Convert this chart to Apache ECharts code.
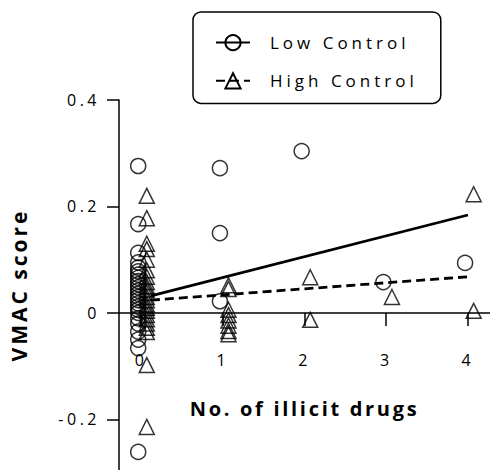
<!DOCTYPE html>
<html><head><meta charset="utf-8">
<script src="https://cdn.jsdelivr.net/npm/echarts@6/dist/echarts.min.js"></script>
<style>html,body{margin:0;padding:0;background:#fff}#c{width:490px;height:470px}</style>
</head><body><div id="c"></div>
<script>
// ---- data ----
const groups = ['Low Control', 'High Control'];
const lowDrugs = [0,0,0,0,0,0,0,0,0,0,0,0,0,0,0,0,0,0,0,0,0,0,0,0,0, 1,1,1, 2, 3, 4];
const lowScores = [0.276,0.167,0.113,0.095,0.085,0.078,0.072,0.066,0.060,0.054,0.048,0.042,0.036,0.030,0.024,0.018,0.012,0.006,0.000,-0.010,-0.020,-0.035,-0.050,-0.066,-0.261,
                   0.272,0.150,0.022, 0.304, 0.058, 0.094];
const highDrugs = [0,0,0,0,0,0,0,0,0,0,0,0,0,0,0,0,0,0,0,0,0,0,0, 1,1,1,1,1,1,1,1, 2,2, 3, 4,4];
const highScores = [0.220,0.178,0.130,0.120,0.100,0.080,0.068,0.058,0.050,0.044,0.038,0.030,0.024,0.016,0.010,0.004,-0.004,-0.012,-0.020,-0.028,-0.036,-0.098,-0.214,
                    0.052,0.045,0.006,-0.004,-0.014,-0.024,-0.034,-0.040, 0.067,-0.013, 0.030, 0.223,0.004];
const lowTrendX = [0.12, 4];
const lowTrendY = [0.032, 0.184];
const highTrendX = [0.12, 4];
const highTrendY = [0.024, 0.068];
const xTicks = [0, 1, 2, 3, 4];
const yTicks = [-0.2, 0, 0.2, 0.4];
const xTitle = 'No. of illicit drugs';
const yTitle = 'VMAC score';

// ---- chart ----
const FONT = '"Open Sans", "Noto Sans", sans-serif';
const lowDodge = -0.035, highDodge = 0.07;
const hollow = {color: 'rgba(0,0,0,0)', borderColor: '#000', borderWidth: 1.5};
const chart = echarts.init(document.getElementById('c'), null, {renderer: 'svg'});
chart.setOption({
  backgroundColor: '#fff',
  animation: false,
  grid: {left: 119, right: 0, top: 100, bottom: 0, containLabel: false, outerBoundsMode: 'none'},
  legend: {
    data: groups, orient: 'vertical', left: 193, top: 12,
    padding: [22, 71, 14, 22], itemWidth: 34, itemHeight: 19, itemGap: 21,
    borderColor: '#000', borderWidth: 1.5, borderRadius: 8, selectedMode: false,
    textStyle: {fontFamily: FONT, fontSize: 17, color: '#000', padding: [0, 0, 0, 15]}
  },
  xAxis: {
    type: 'value', min: -0.27, max: 4.27,
    axisLine: {onZero: true, lineStyle: {color: '#000', width: 1.5}},
    axisTick: {length: 13, lineStyle: {color: '#000', width: 1.5}, customValues: xTicks},
    axisLabel: {customValues: xTicks, margin: -118, fontSize: 16, color: '#000', fontFamily: FONT},
    splitLine: {show: false},
    name: xTitle, nameLocation: 'middle', nameGap: -72,
    nameTextStyle: {fontFamily: FONT, fontWeight: 'bold', fontSize: 20, color: '#000'}
  },
  yAxis: {
    type: 'value', min: -0.295, max: 0.4,
    axisLine: {show: true, onZero: false, lineStyle: {color: '#000', width: 1.5}},
    axisTick: {show: true, length: 12, lineStyle: {color: '#000', width: 1.5}, customValues: yTicks},
    axisLabel: {customValues: yTicks, margin: 19, fontSize: 16, color: '#000', fontFamily: FONT,
      formatter: v => String(+(+v).toFixed(1))},
    splitLine: {show: false},
    name: yTitle, nameLocation: 'middle', nameGap: 90, nameRotate: 90,
    nameTextStyle: {fontFamily: FONT, fontWeight: 'bold', fontSize: 21, color: '#000'}
  },
  series: [
    {type: 'scatter', name: 'Low Control points', symbol: 'circle', symbolSize: 15, itemStyle: hollow,
     data: lowDrugs.map((d, i) => [d + lowDodge, lowScores[i]])},
    {type: 'scatter', name: 'High Control points', symbol: 'triangle', symbolSize: 15, itemStyle: hollow,
     data: highDrugs.map((d, i) => [d + highDodge, highScores[i]])},
    {type: 'line', name: groups[0], symbol: 'circle', showSymbol: false, z: 5, itemStyle: hollow,
     lineStyle: {color: '#000', width: 2.8, type: 'solid'},
     data: lowTrendX.map((x, i) => [x, lowTrendY[i]])},
    {type: 'line', name: groups[1], symbol: 'triangle', showSymbol: false, z: 5, itemStyle: hollow,
     lineStyle: {color: '#000', width: 2.8, type: [9, 5]},
     data: highTrendX.map((x, i) => [x, highTrendY[i]])}
  ]
});
function applySpacing() {
  document.querySelectorAll('#c text').forEach(t => {
    const s = t.textContent;
    let ls = 3.5;
    if (groups.includes(s)) ls = 4;
    else if (s === yTitle) ls = 3;
    else if (s === xTitle) ls = 2.7;
    t.style.letterSpacing = ls + 'px';
  });
}
chart.on('finished', applySpacing);
applySpacing();
</script></body></html>
